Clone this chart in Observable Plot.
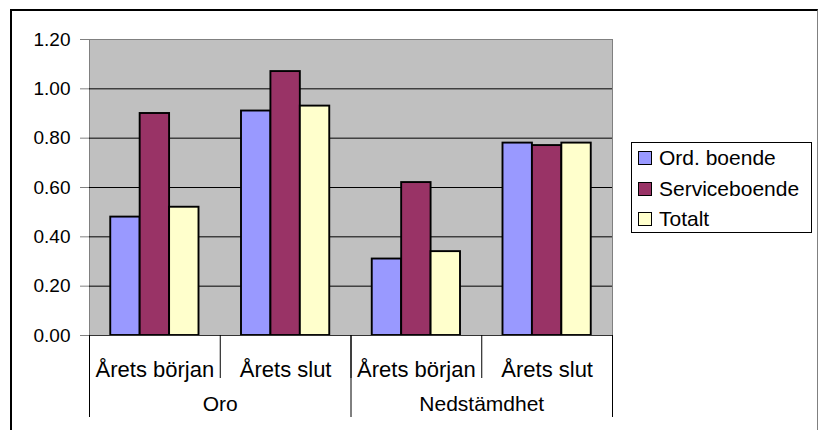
<!DOCTYPE html>
<html><head><meta charset="utf-8">
<script src="https://cdn.jsdelivr.net/npm/d3@7"></script>
<script src="https://cdn.jsdelivr.net/npm/@observablehq/plot@0.6"></script>
<style>
body{margin:0;background:#fff;}
#wrap{position:relative;width:818px;height:430px;overflow:hidden;font-family:"Liberation Sans",Arial,sans-serif;}
#wrap svg{position:absolute;left:0;top:0;}
#border{position:absolute;left:10px;top:9px;width:805px;height:440px;border-left:2px solid #000;border-top:2px solid #000;border-right:1px solid #808080;pointer-events:none;}
#legend{position:absolute;left:631px;top:142px;width:179px;height:89px;border:1px solid #000;background:#fff;}
.row{position:absolute;left:6px;height:24px;display:flex;align-items:center;font-size:21px;color:#000;white-space:nowrap;}
.sw{width:12px;height:12px;border:1px solid #000;margin-right:7px;}
</style></head><body><div id="wrap"></div>
<script>
// ---- data ----
const groups = ["Oro", "Nedstämdhet"];
const periods = ["Årets början", "Årets slut"];
const series = ["Ord. boende", "Serviceboende", "Totalt"];
const colors = ["#9999FF", "#993366", "#FFFFCC"];
const ordBoende = [0.48, 0.91, 0.31, 0.78];
const serviceboende = [0.90, 1.07, 0.62, 0.77];
const totalt = [0.52, 0.93, 0.34, 0.78];
const yTicks = [0, 0.2, 0.4, 0.6, 0.8, 1.0, 1.2];

// ---- build table ----
const catLabels = groups.flatMap(() => periods);
const values = [ordBoende, serviceboende, totalt];
const barW = 0.225; // bar width as a fraction of a category
const rows = [];
catLabels.forEach((_, c) => series.forEach((s, i) => {
  rows.push({cat: c, idx: i, series: s, value: values[i][c]});
}));
const x1 = d => d.cat + (1 - 3 * barW) / 2 + d.idx * barW;
const x2 = d => x1(d) + barW;
const nCat = catLabels.length;
const boundaries = d3.range(nCat + 1);
const groupBounds = d3.range(0, nCat + 1, periods.length);
const catCenters = d3.range(nCat).map(c => c + 0.5);
const groupCenters = groups.map((_, g) => g * periods.length + periods.length / 2);

const chart = Plot.plot({
  width: 818, height: 430,
  marginTop: 39, marginBottom: 95, marginLeft: 89, marginRight: 206,
  x: {domain: [0, nCat]},
  y: {domain: [0, 1.2]},
  color: {domain: series, range: colors},
  style: {fontFamily: '"Liberation Sans", Arial, sans-serif', background: "transparent", overflow: "visible", color: "#000"},
  marks: [
    Plot.frame({fill: "#c0c0c0", stroke: "#808080"}),
    Plot.gridY(yTicks.filter(t => t > 0 && t < 1.2), {stroke: "#000", strokeOpacity: 1}),
    Plot.rect(rows, {x1, x2, y1: 0, y2: "value", fill: "series", stroke: "#000", strokeWidth: 1.9}),
    Plot.ruleY([0], {stroke: "#333"}),
    Plot.axisY({ticks: yTicks, tickFormat: d3.format(".2f"), tickSize: 9, tickPadding: 10, fontSize: 19, stroke: "#808080", label: null}),
    Plot.axisX({ticks: boundaries, tickSize: 43, tickFormat: () => "", stroke: "#000", label: null}),
    Plot.axisX({ticks: groupBounds, tickSize: 82, tickFormat: () => "", stroke: "#000", label: null}),
    Plot.axisX({ticks: catCenters, tickSize: 0, tickPadding: 26, tickFormat: d => catLabels[Math.floor(d)], fontSize: 22, label: null}),
    Plot.axisX({ticks: groupCenters, tickSize: 0, tickPadding: 61, tickFormat: d => groups[Math.floor(d / periods.length)], fontSize: 21, label: null})
  ]
});

const wrap = document.getElementById("wrap");
wrap.appendChild(chart);
const border = document.createElement("div");
border.id = "border";
wrap.appendChild(border);
const legend = document.createElement("div");
legend.id = "legend";
const colorScale = chart.scale("color");
series.forEach((s, i) => {
  const row = document.createElement("div");
  row.className = "row";
  row.style.top = (3 + i * 30.5) + "px";
  const sw = document.createElement("div");
  sw.className = "sw";
  sw.style.background = colorScale.apply(s);
  const t = document.createElement("span");
  t.textContent = s;
  row.appendChild(sw); row.appendChild(t);
  legend.appendChild(row);
});
wrap.appendChild(legend);
</script></body></html>
